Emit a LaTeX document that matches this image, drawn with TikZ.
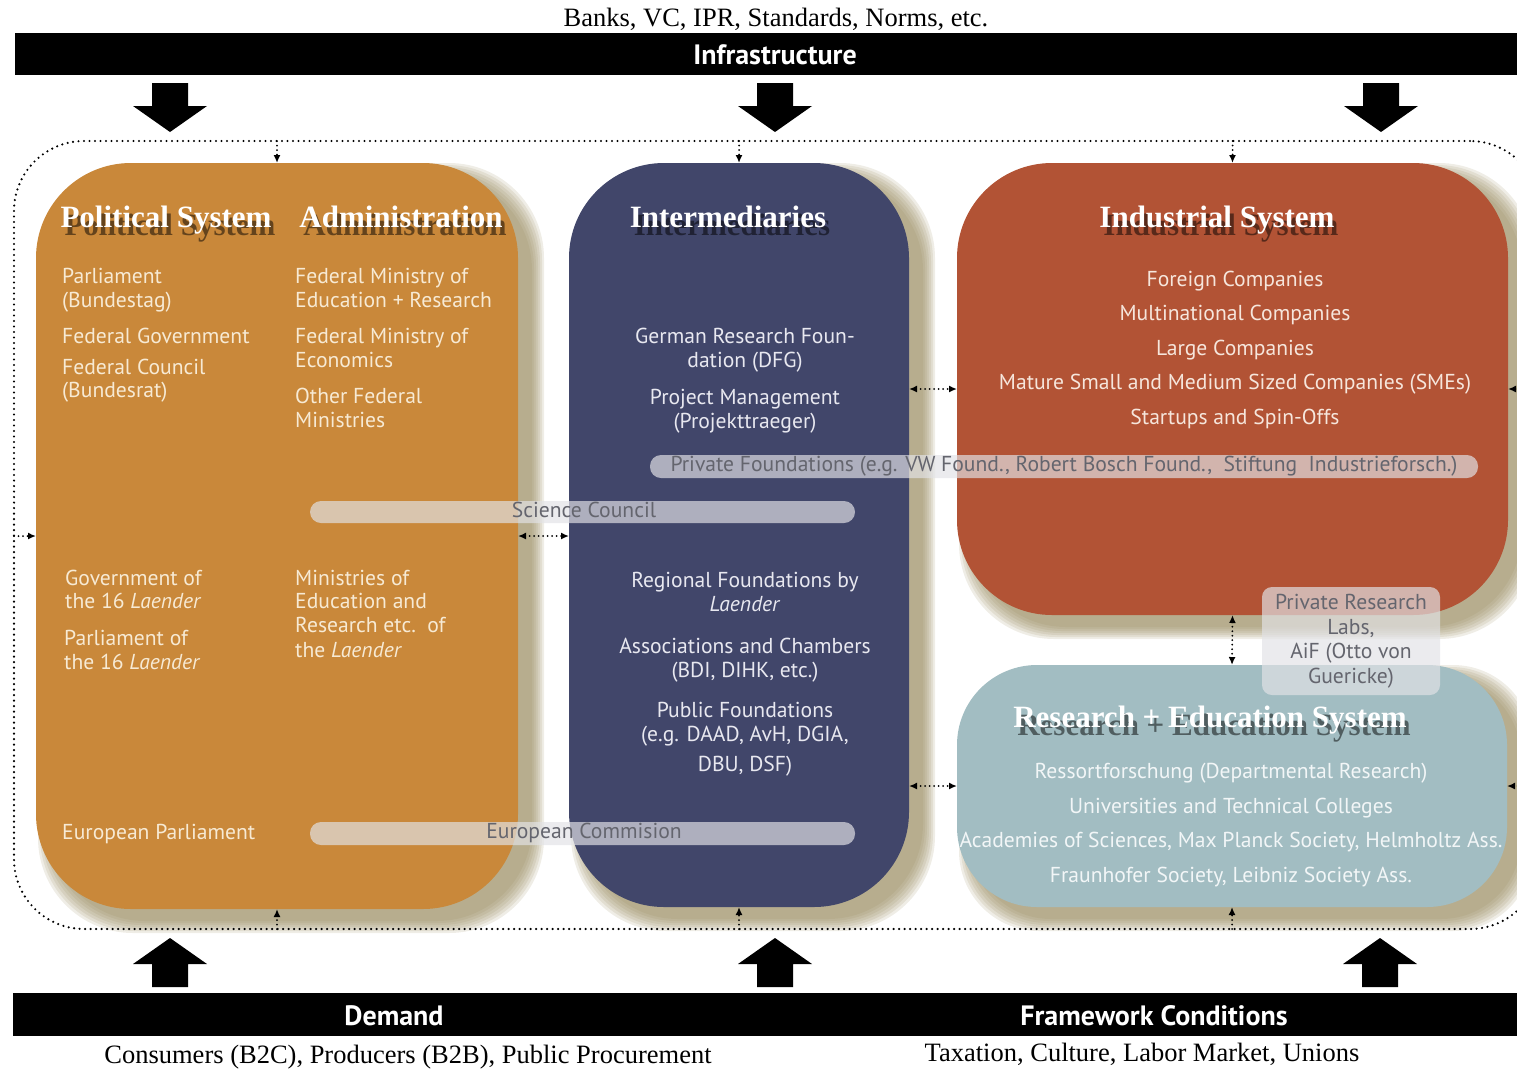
\documentclass[tikz,border=0pt]{standalone}
\usepackage{fontspec}
\setmainfont{Liberation Serif}
\setsansfont{PT Sans}
\usetikzlibrary{arrows.meta,calc,backgrounds}
\definecolor{orangec}{RGB}{201,136,58}
\definecolor{navyc}{RGB}{65,70,106}
\definecolor{redc}{RGB}{178,83,53}
\definecolor{tealc}{RGB}{162,189,194}
\definecolor{shadowc}{RGB}{148,134,88}
\definecolor{pillc}{RGB}{226,226,230}
\definecolor{pilltext}{RGB}{100,101,110}
\definecolor{otext}{RGB}{247,234,212}
\definecolor{ntext}{RGB}{232,232,240}
\definecolor{rtext}{RGB}{246,230,220}
\definecolor{ttext}{RGB}{242,246,247}
\tikzset{
  box/.style={rectangle, rounded corners=#1, inner sep=0pt, outer sep=0pt, draw=none},
  box/.default=95pt,
  boundary/.style={rectangle, rounded corners=70pt, draw=black, line width=2.4pt, line cap=round,
    dash pattern=on 0pt off 5.5pt, inner sep=0pt, outer sep=0pt},
  sarr/.style={line width=2pt, line cap=round, dash pattern=on 0pt off 4.5pt,
    -{Latex[length=8pt,width=7pt]}},
  darr/.style={line width=2pt, line cap=round, dash pattern=on 0pt off 4.5pt,
    {Latex[length=8pt,width=7pt]}-{Latex[length=8pt,width=7pt]}},
  bar/.style={rectangle, fill=black, inner sep=0pt, outer sep=0pt},
  bartext/.style={font=\sffamily\bfseries\fontsize{28}{32}\selectfont, text=white, inner sep=0pt, anchor=base},
  serifline/.style={font=\fontsize{26.5}{31}\selectfont, text=black, inner sep=0pt, anchor=base},
  hdr/.style={font=\bfseries\fontsize{31}{36}\selectfont, text=white, inner sep=0pt, anchor=base},
  hdrs/.style={hdr, text=black, text opacity=0.5},
  txt/.style={font=\sffamily\fontsize{21.6}{24}\selectfont, inner sep=0pt},
  ot/.style={txt, text=otext, anchor=base west},
  nt/.style={txt, text=ntext, anchor=base},
  rt/.style={txt, text=rtext, anchor=base},
  tt/.style={txt, text=ttext, anchor=base},
  pill/.style={rectangle, rounded corners=11pt, fill=pillc, fill opacity=0.68, text opacity=1,
    text=pilltext, font=\sffamily\fontsize{21.6}{24}\selectfont, inner sep=0pt, outer sep=0pt,
    text height=15pt, text depth=5pt},
  bigdown/.pic={\fill[black] (-18,-49) -- (18,-49) -- (18,-26) -- (37,-26) -- (0,0) -- (-37,-26) -- (-18,-26) -- cycle;},
  bigup/.pic={\fill[black] (-18,49) -- (18,49) -- (18,26) -- (37,26) -- (0,0) -- (-37,26) -- (-18,26) -- cycle;}
}
\newcommand{\boxshadow}[2]{%
  \foreach \k in {0,...,6}{%
    \fill[shadowc, opacity=0.15, rounded corners=#2]
      ($(#1.north west)+(14-2*\k,12-2*\k)$) rectangle ($(#1.south east)+(14+2*\k,12+2*\k)$);
  }}
\newcommand{\header}[3]{%
  \node[hdrs] (#1s) at ($(#2)+(4,8)$) {#3};
  \node[hdr] (#1) at (#2) {#3};}
\begin{document}
\begin{tikzpicture}[x=1pt,y=-1pt]
\useasboundingbox (0,0) rectangle (1517,1069);
\clip (0,0) rectangle (1517,1069);

% top
\node[serifline] (banks) at (776,26) {Banks, VC, IPR, Standards, Norms, etc.};
\node[bar, minimum width=1502pt, minimum height=42pt] (infrabar) at (766,54) {};
\node[bartext] (infra) at (775,64) {Infrastructure};
\coordinate (da1) at (170,132);
\coordinate (da2) at (775,132);
\coordinate (da3) at (1381,132);
\pic at (da1) {bigdown};
\pic at (da2) {bigdown};
\pic at (da3) {bigdown};

% bottom
\node[bar, minimum width=1504pt, minimum height=43pt] (botbar) at (765,1014.5) {};
\node[bartext] (demand) at (394,1025) {Demand};
\node[bartext] (frame) at (1154,1025) {Framework Conditions};
\node[serifline] (cons) at (408,1063) {Consumers (B2C), Producers (B2B), Public Procurement};
\node[serifline] (tax) at (1142,1061) {Taxation, Culture, Labor Market, Unions};
\coordinate (ua1) at (170,938);
\coordinate (ua2) at (775,938);
\coordinate (ua3) at (1380,938);
\pic at (ua1) {bigup};
\pic at (ua2) {bigup};
\pic at (ua3) {bigup};

% boundary
\node[boundary, minimum width=1526pt, minimum height=788pt] (sys) at (777,535) {};

% boxes
\node[box, fill=orangec, minimum width=482pt, minimum height=746pt] (pol) at (277,536) {};
\node[box, fill=navyc, minimum width=340pt, minimum height=744pt] (inter) at (739,535) {};
\node[box, fill=redc, minimum width=551pt, minimum height=452pt] (ind) at (1232.5,389) {};
\node[box=80pt, fill=tealc, minimum width=550pt, minimum height=242pt] (res) at (1232,786) {};

\begin{scope}[on background layer]
  \boxshadow{pol}{95pt}
  \boxshadow{inter}{95pt}
  \boxshadow{ind}{95pt}
  \boxshadow{res}{80pt}
\end{scope}

% headers
\header{hpol}{166,227}{Political System}
\header{hadm}{401,227}{Administration}
\header{hint}{728,227}{Intermediaries}
\header{hind}{1217,227}{Industrial System}
\header{hres}{1210,727}{Research + Education System}

% orange left column
\node[ot] (o1) at (62,283) {Parliament};
\node[ot] (o2) at (62,307) {(Bundestag)};
\node[ot] (o3) at (62,343) {Federal Government};
\node[ot] (o4) at (62,374) {Federal Council};
\node[ot] (o5) at (62,397) {(Bundesrat)};
\node[ot] (o6) at (65,585) {Government of};
\node[ot] (o7) at (65,608) {the 16 \textit{Laender}};
\node[ot] (o8) at (64,645) {Parliament of};
\node[ot] (o9) at (64,669) {the 16 \textit{Laender}};
\node[ot] (o10) at (62,839) {European Parliament};
% orange right column
\node[ot] (a1) at (295,283) {Federal Ministry of};
\node[ot] (a2) at (295,307) {Education + Research};
\node[ot] (a3) at (295,343) {Federal Ministry of};
\node[ot] (a4) at (295,367) {Economics};
\node[ot] (a5) at (295,403) {Other Federal};
\node[ot] (a6) at (295,427) {Ministries};
\node[ot] (a7) at (295,585) {Ministries of};
\node[ot] (a8) at (295,608) {Education and};
\node[ot] (a9) at (295,632) {Research etc.\ \ of};
\node[ot] (a10) at (295,657) {the \textit{Laender}};

% navy
\node[nt] (n1) at (745,343) {German Research Foun-};
\node[nt] (n2) at (745,367) {dation (DFG)};
\node[nt] (n3) at (745,404) {Project Management};
\node[nt] (n4) at (745,428) {(Projekttraeger)};
\node[nt] (n5) at (745,587) {Regional Foundations by};
\node[nt] (n6) at (745,611) {\textit{Laender}};
\node[nt] (n7) at (745,653) {Associations and Chambers};
\node[nt] (n8) at (745,677) {(BDI, DIHK, etc.)};
\node[nt] (n9) at (745,717) {Public Foundations};
\node[nt] (n10) at (745,741) {(e.g. DAAD, AvH, DGIA,};
\node[nt] (n11) at (745,771) {DBU, DSF)};

% red
\node[rt] (r1) at (1235,286) {Foreign Companies};
\node[rt] (r2) at (1235,320) {Multinational Companies};
\node[rt] (r3) at (1235,355) {Large Companies};
\node[rt] (r4) at (1235,389) {Mature Small and Medium Sized Companies (SMEs)};
\node[rt] (r5) at (1235,424) {Startups and Spin-Offs};

% teal
\node[tt] (e1) at (1231,778) {Ressortforschung (Departmental Research)};
\node[tt] (e2) at (1231,813) {Universities and Technical Colleges};
\node[tt] (e3) at (1231,847) {Academies of Sciences, Max Planck Society, Helmholtz Ass.};
\node[tt] (e4) at (1231,882) {Fraunhofer Society, Leibniz Society Ass.};

% pills
\node[pill, minimum width=828pt, minimum height=23pt] (pf) at (1064,466.5)
  {Private Foundations (e.g. VW Found., Robert Bosch Found.,\ \ Stiftung\ \ Industrieforsch.)};
\node[pill, minimum width=545pt, minimum height=22pt] (sc) at (582.5,512) {\hspace*{3pt}Science Council};
\node[pill, minimum width=545pt, minimum height=23pt] (ec) at (582.5,833.5) {\hspace*{3pt}European Commision};
\node[pill, rounded corners=10pt, minimum width=178pt, minimum height=108pt, align=center,
  font=\sffamily\fontsize{21.6}{24.5}\selectfont, text height=, text depth=] (prl) at (1351,641)
  {Private Research\\Labs,\\AiF (Otto von\\Guericke)};

% connectors
\draw[sarr] (pol.north |- sys.north) -- (pol.north);
\draw[sarr] (inter.north |- sys.north) -- (inter.north);
\draw[sarr] (ind.north |- sys.north) -- (ind.north);
\draw[sarr] (pol.south |- sys.south) -- (pol.south);
\draw[sarr] (inter.south |- sys.south) -- (inter.south);
\draw[sarr] (res.south |- sys.south) -- (res.south);
\draw[sarr] (sys.west |- pol.west) -- (pol.west);
\draw[sarr] (sys.east |- ind.east) -- (ind.east);
\draw[sarr] (sys.east |- res.east) -- (res.east);
\draw[darr] (pol.east) -- (pol.east -| inter.west);
\draw[darr] (inter.east |- ind.west) -- (ind.west);
\draw[darr] (inter.east |- res.west) -- (res.west);
\draw[darr] (ind.south) -- (res.north);
\end{tikzpicture}
\end{document}
